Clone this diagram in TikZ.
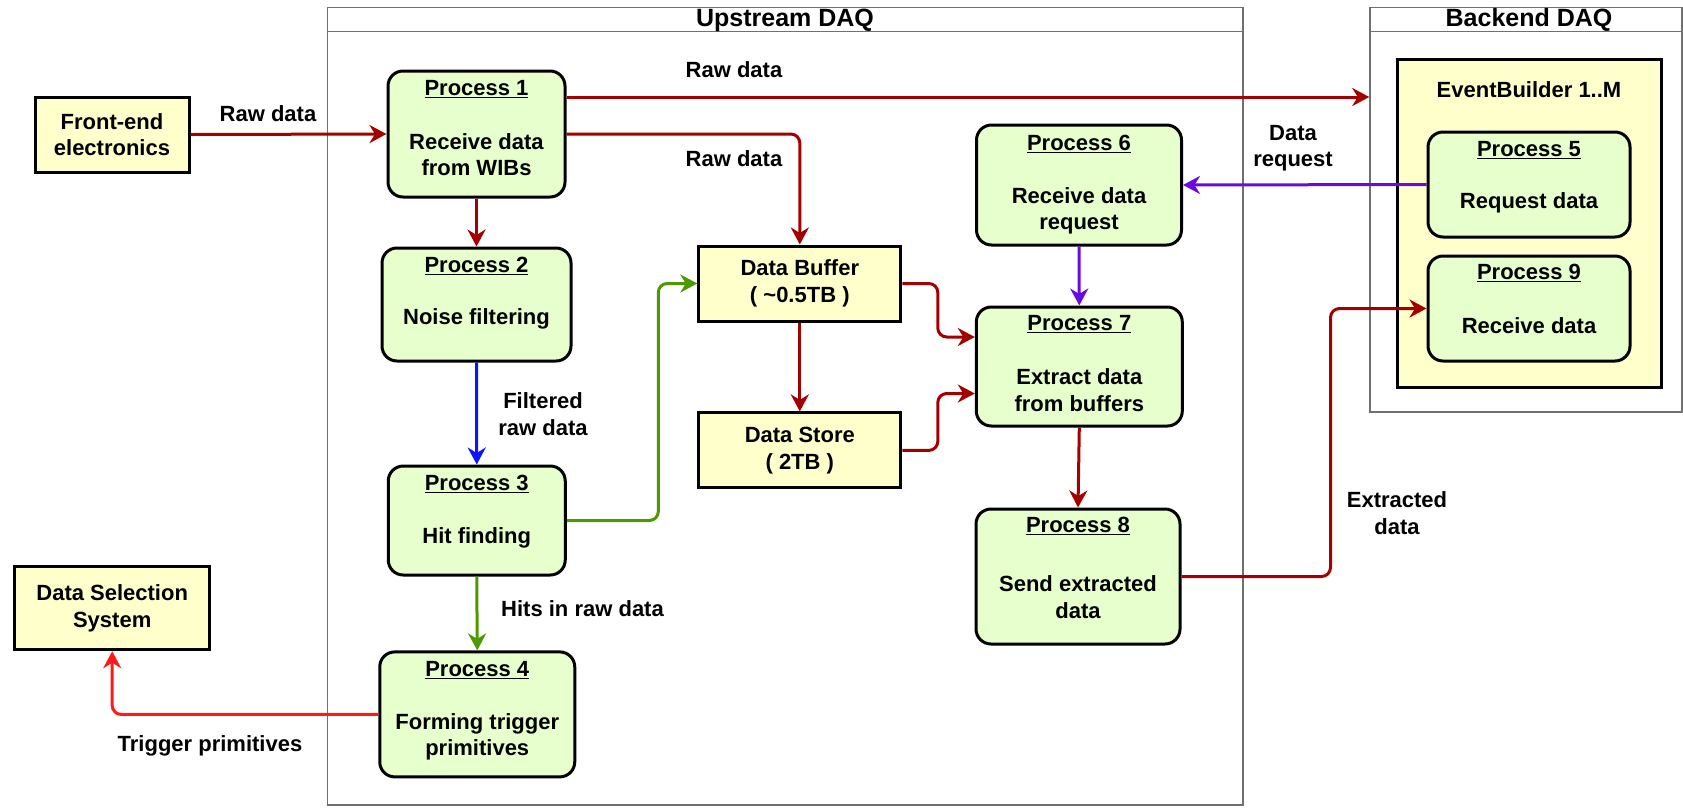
\documentclass[tikz,border=0pt]{standalone}
\usepackage{fontspec}
\setmainfont{Liberation Sans}
\usetikzlibrary{arrows.meta,calc}

\definecolor{ybox}{HTML}{FFFFCC}
\definecolor{gbox}{HTML}{E6FFCC}
\definecolor{framegray}{HTML}{707070}
\definecolor{darkred}{HTML}{A30000}
\definecolor{flowgreen}{HTML}{4D9900}
\definecolor{flowblue}{HTML}{0A14FF}
\definecolor{flowpurple}{HTML}{6A0AE0}
\definecolor{flowred}{HTML}{FF1A1A}

\tikzset{
  yellowbox/.style={draw=black, line width=3pt, fill=ybox, inner sep=0pt, align=center},
  procbox/.style={draw=black, line width=3pt, fill=gbox, rounded corners=15pt, inner sep=0pt},
  frame/.style={draw=framegray, line width=1.5pt, inner sep=0pt},
  lbl/.style={inner sep=0pt, align=center},
  head/.style={lbl, font=\fontsize{25}{30}\selectfont\bfseries},
  flow/.style={line width=3pt, rounded corners=9pt,
    -{Stealth[length=17pt,width=18pt,inset=5.5pt]}},
}

\begin{document}
\begin{tikzpicture}[x=1pt,y=-1pt,font=\fontsize{22}{26.5}\selectfont\bfseries]
\useasboundingbox (0,0) rectangle (1683,807);

% ---- system frames ----
\node[frame, minimum width=915.5pt, minimum height=797.5pt] (up) at (785.25,406.25) {};
\draw[framegray, line width=1.5pt] ([yshift=-24.5pt]up.north west) -- ([yshift=-24.5pt]up.north east);
\node[head] (uptitle) at (785,20) {Upstream DAQ};

\node[frame, minimum width=312pt, minimum height=404.5pt] (bk) at (1526,209.75) {};
\draw[framegray, line width=1.5pt] ([yshift=-24.5pt]bk.north west) -- ([yshift=-24.5pt]bk.north east);
\node[head] (bktitle) at (1529,20) {Backend DAQ};

% ---- external blocks ----
\node[yellowbox, minimum width=154pt, minimum height=75pt] (fe) at (112,134.5) {Front-end\\electronics};
\node[yellowbox, minimum width=195pt, minimum height=83pt] (dss) at (112.2,608.2) {Data Selection\\System};

% ---- storage ----
\node[yellowbox, minimum width=202pt, minimum height=75pt] (db) at (799.8,283.5) {Data Buffer\\( \textasciitilde 0.5TB )};
\node[yellowbox, minimum width=202pt, minimum height=75pt] (ds) at (799.8,450.4) {Data Store\\( 2TB )};

% ---- event builder ----
\node[yellowbox, minimum width=264pt, minimum height=328pt] (eb) at (1529,223) {};
\node[lbl] (ebt) at (1529,90) {EventBuilder 1..M};

% ---- processes (box, heading, description) ----
\node[procbox, minimum width=177pt, minimum height=126pt] (p1) at (476.5,134) {};
\node[lbl] (p1h) at (476.5,89) {\underline{Process 1}};
\node[lbl] (p1b) at (476.5,154.7) {Receive data\\from WIBs};

\node[procbox, minimum width=189pt, minimum height=113pt] (p2) at (476.5,304.5) {};
\node[lbl] (p2h) at (476.5,266) {\underline{Process 2}};
\node[lbl] (p2b) at (476.5,319) {Noise filtering};

\node[procbox, minimum width=177pt, minimum height=109pt] (p3) at (476.75,520.5) {};
\node[lbl] (p3h) at (476.75,484) {\underline{Process 3}};
\node[lbl] (p3b) at (476.75,538) {Hit finding};

\node[procbox, minimum width=195pt, minimum height=125pt] (p4) at (477.25,714.4) {};
\node[lbl] (p4h) at (477.25,670) {\underline{Process 4}};
\node[lbl] (p4b) at (477.25,737) {Forming trigger\\primitives};

\node[procbox, minimum width=205pt, minimum height=120pt] (p6) at (1079,185) {};
\node[lbl] (p6h) at (1079,144) {\underline{Process 6}};
\node[lbl] (p6b) at (1079,211) {Receive data\\request};

\node[procbox, minimum width=206pt, minimum height=119pt] (p7) at (1079.3,366.5) {};
\node[lbl] (p7h) at (1079.3,324) {\underline{Process 7}};
\node[lbl] (p7b) at (1079.3,390) {Extract data\\from buffers};

\node[procbox, minimum width=204pt, minimum height=135pt] (p8) at (1078,576.5) {};
\node[lbl] (p8h) at (1078,526) {\underline{Process 8}};
\node[lbl] (p8b) at (1078,597) {Send extracted\\data};

\node[procbox, minimum width=202pt, minimum height=105pt] (p5) at (1529,184.5) {};
\node[lbl] (p5h) at (1529,150) {\underline{Process 5}};
\node[lbl] (p5b) at (1529,203) {Request data};

\node[procbox, minimum width=202pt, minimum height=105pt] (p9) at (1529,308.5) {};
\node[lbl] (p9h) at (1529,273) {\underline{Process 9}};
\node[lbl] (p9b) at (1529,326) {Receive data};

% ---- connector helpers ----
\coordinate (r1) at ([yshift=37pt]p1.east);
\coordinate (p7in1) at ([yshift=29.5pt]p7.west);
\coordinate (p7in2) at ([yshift=-27pt]p7.west);

% ---- raw data path ----
\draw[flow, darkred] (fe.east) -- (p1.west);
\draw[flow, darkred] (r1) -- (r1 -| bk.west);
\draw[flow, darkred] (p1.east) -| (db.north);
\draw[flow, darkred] (p1.south) -- (p2.north);
\draw[flow, flowblue] (p2.south) -- (p3.north);
\draw[flow, flowgreen] (p3.east) -| ([xshift=-39pt]db.west) -- (db.west);
\draw[flow, flowgreen] (p3.south) -- (p4.north);
\draw[flow, flowred] (p4.west) -| (dss.south);

% ---- buffering and extraction ----
\draw[flow, darkred] (db.south) -- (ds.north);
\draw[flow, darkred] (db.east) -| ([xshift=-37pt]p7in1) -- (p7in1);
\draw[flow, darkred] (ds.east) -| ([xshift=-37pt]p7in2) -- (p7in2);
\draw[flow, flowpurple] (p5.west) -- (p6.east);
\draw[flow, flowpurple] (p6.south) -- (p7.north);
\draw[flow, darkred] (p7.south) -- (p8.north);
\draw[flow, darkred] (p8.east) -| ([xshift=-96pt]p9.west) -- (p9.west);

% ---- connector labels ----
\node[lbl] (lraw1) at (268,114) {Raw data};
\node[lbl] (lraw2) at (734,70) {Raw data};
\node[lbl] (lraw3) at (734,159) {Raw data};
\node[lbl] (lfilt) at (543,414) {Filtered\\raw data};
\node[lbl] (lhits) at (582.5,609) {Hits in raw data};
\node[lbl] (ltrig) at (210,746) {Trigger primitives};
\node[lbl] (lreq) at (1293,148) {Data\\request};
\node[lbl] (lext) at (1397,513) {Extracted\\data};
\end{tikzpicture}
\end{document}
